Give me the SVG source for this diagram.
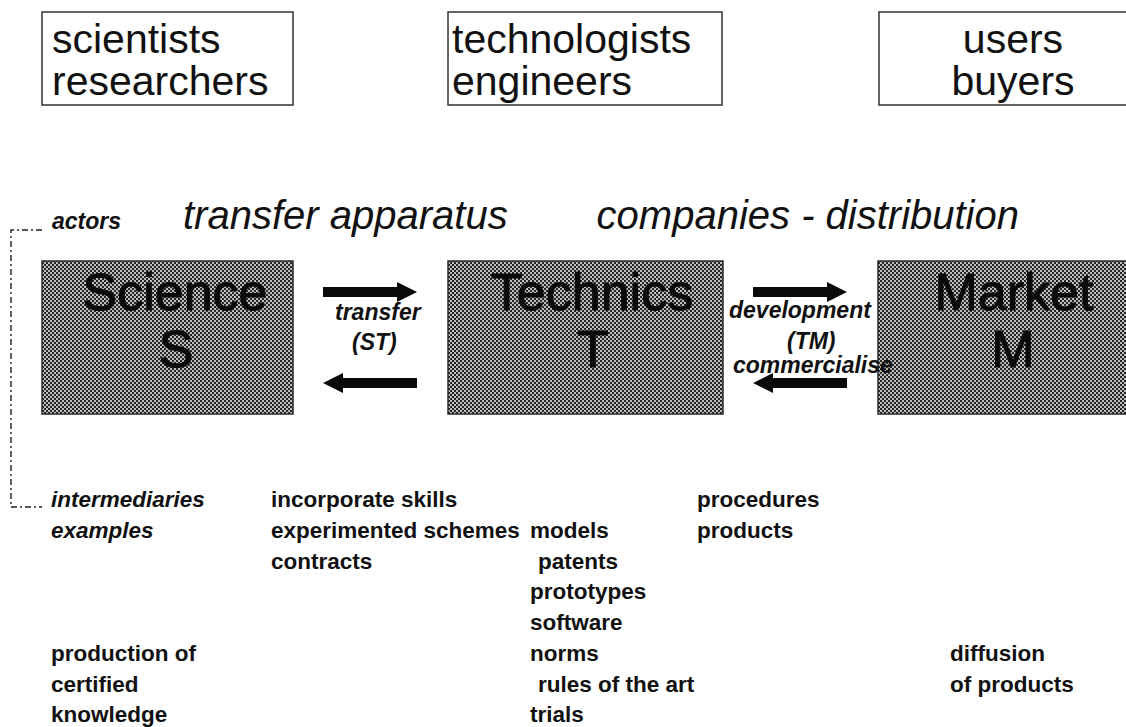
<svg xmlns="http://www.w3.org/2000/svg" width="1126" height="727" viewBox="0 0 1126 727">
<style>
.actor{fill:#fff;stroke:#333;stroke-width:1.5}
.big{stroke:#2a2a2a;stroke-width:1.5}
.atxt{font-family:"Liberation Sans",Arial,sans-serif;font-size:41px;fill:#111}
.btxt{font-family:"Liberation Sans",Arial,sans-serif;font-size:52px;fill:#0a0a0a;stroke:#0a0a0a;stroke-width:1;text-anchor:middle}
.head{font-family:"Liberation Sans",Arial,sans-serif;font-size:40px;font-style:italic;fill:#111}
.lab{font-family:"Liberation Sans",Arial,sans-serif;font-size:23px;font-style:italic;font-weight:bold;fill:#111}
.sm{font-family:"Liberation Sans",Arial,sans-serif;font-size:22.5px;font-weight:bold;fill:#111}
.smi{font-family:"Liberation Sans",Arial,sans-serif;font-size:22.5px;font-weight:bold;font-style:italic;fill:#111}
.arr{fill:#0a0a0a}
.dash{fill:none;stroke:#222;stroke-width:1.4;stroke-dasharray:6 3 2 3}
</style>
<defs>
<pattern id="ht" width="4" height="4" patternUnits="userSpaceOnUse">
<rect width="4" height="4" fill="#bdbdbd"/>
<rect width="2" height="2" fill="#262626"/>
<rect x="2" y="2" width="2" height="2" fill="#262626"/>
</pattern>
</defs>
<rect width="1126" height="727" fill="#fff"/>

<g id="actor-scientists">
<rect class="actor" x="42" y="12" width="251" height="93"/>
<text class="atxt" x="52" y="53">scientists</text>
<text class="atxt" x="52" y="95">researchers</text>
</g>
<g id="actor-technologists">
<rect class="actor" x="448" y="12" width="274" height="93"/>
<text class="atxt" x="452" y="53">technologists</text>
<text class="atxt" x="452" y="95">engineers</text>
</g>
<g id="actor-users">
<rect class="actor" x="879" y="12" width="260" height="93"/>
<text class="atxt" x="1013" y="53" text-anchor="middle">users</text>
<text class="atxt" x="1013" y="95" text-anchor="middle">buyers</text>
</g>

<g id="headings">
<text class="lab" x="52" y="229">actors</text>
<text class="head" x="183" y="229">transfer apparatus</text>
<text class="head" x="1019" y="229" text-anchor="end">companies - distribution</text>
</g>

<g id="bracket">
<path class="dash" d="M42,230 H11 V507 H42"/>
</g>

<g id="node-science">
<rect class="big" x="42" y="261" width="251" height="153" fill="url(#ht)"/>
<text class="btxt" x="175" y="310">Science</text>
<text class="btxt" x="176" y="367">S</text>
</g>
<g id="node-technics">
<rect class="big" x="448" y="261" width="275" height="153" fill="url(#ht)"/>
<text class="btxt" x="592" y="310">Technics</text>
<text class="btxt" x="593" y="367">T</text>
</g>
<g id="node-market">
<rect class="big" x="878" y="261" width="260" height="153" fill="url(#ht)"/>
<text class="btxt" x="1014" y="310">Market</text>
<text class="btxt" x="1013" y="367">M</text>
</g>

<g id="connectors">
<polygon class="arr" points="323,287 397,287 397,282 417,292 397,302 397,297 323,297"/>
<polygon class="arr" points="417,378 343,378 343,373 323,383 343,393 343,388 417,388"/>
<polygon class="arr" points="753,287 827,287 827,282 847,292 827,302 827,297 753,297"/>
<polygon class="arr" points="847,378 773,378 773,373 753,383 773,393 773,388 847,388"/>
<text class="lab" x="335" y="320">transfer</text>
<text class="lab" x="352" y="350">(ST)</text>
<text class="lab" x="729" y="318">development</text>
<text class="lab" x="787" y="349">(TM)</text>
<text class="lab" x="733" y="373">commercialise</text>
</g>

<g id="examples">
<text class="smi" x="51" y="507">intermediaries</text>
<text class="smi" x="51" y="538">examples</text>
<text class="sm" x="51" y="661">production of</text>
<text class="sm" x="51" y="692">certified</text>
<text class="sm" x="51" y="722">knowledge</text>
<text class="sm" x="271" y="507">incorporate skills</text>
<text class="sm" x="271" y="538">experimented schemes</text>
<text class="sm" x="271" y="569">contracts</text>
<text class="sm" x="530" y="538">models</text>
<text class="sm" x="538" y="569">patents</text>
<text class="sm" x="530" y="599">prototypes</text>
<text class="sm" x="530" y="630">software</text>
<text class="sm" x="530" y="661">norms</text>
<text class="sm" x="538" y="692">rules of the art</text>
<text class="sm" x="530" y="722">trials</text>
<text class="sm" x="697" y="507">procedures</text>
<text class="sm" x="697" y="538">products</text>
<text class="sm" x="950" y="661">diffusion</text>
<text class="sm" x="950" y="692">of products</text>
</g>
</svg>
